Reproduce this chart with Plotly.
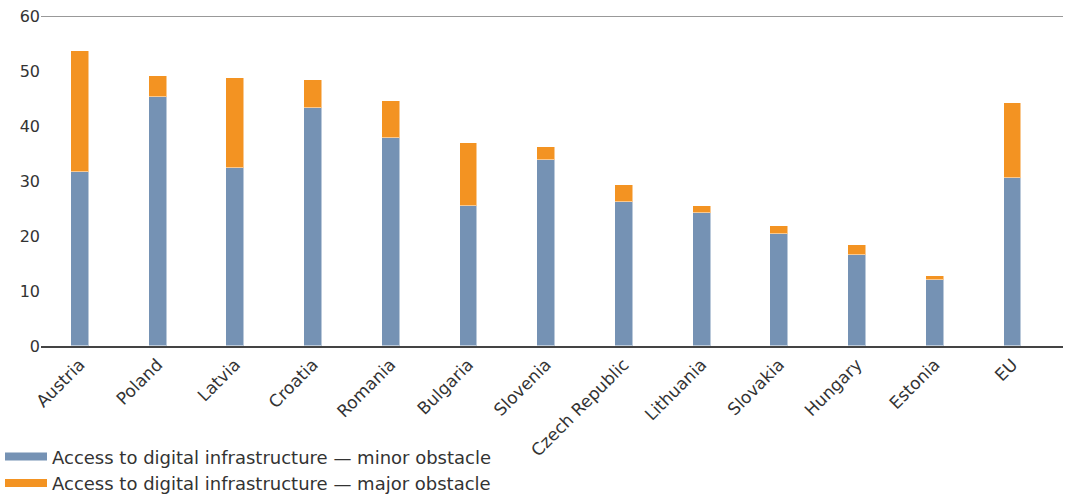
import plotly.graph_objects as go

countries = ["Austria", "Poland", "Latvia", "Croatia", "Romania", "Bulgaria", "Slovenia",
             "Czech Republic", "Lithuania", "Slovakia", "Hungary", "Estonia", "EU"]
minor = [31.6, 45.3, 32.3, 43.3, 37.8, 25.4, 33.9, 26.1, 24.2, 20.3, 16.5, 12.0, 30.6]
total = [53.7, 49.1, 48.8, 48.3, 44.6, 37.0, 36.2, 29.3, 25.5, 21.8, 18.3, 12.8, 44.1]
major = [round(t - m, 1) for t, m in zip(total, minor)]

name_minor = "Access to digital infrastructure — minor obstacle"
name_major = "Access to digital infrastructure — major obstacle"
c_minor = "#7592B4"
c_major = "#F39322"

fig = go.Figure()
fig.add_trace(go.Bar(x=countries, y=minor, marker=dict(color=c_minor, line=dict(color="rgba(255,255,255,0.5)", width=1)),
                     width=0.23, showlegend=False, name=name_minor))
fig.add_trace(go.Bar(x=countries, y=major, marker=dict(color=c_major, line=dict(color="rgba(255,255,255,0.5)", width=1)),
                     width=0.23, showlegend=False, name=name_major))
# legend entries with wide rectangular keys
fig.add_trace(go.Scatter(x=[None], y=[None], mode="lines", line=dict(color=c_minor, width=8), name=name_minor))
fig.add_trace(go.Scatter(x=[None], y=[None], mode="lines", line=dict(color=c_major, width=8), name=name_major))

fig.add_shape(type="line", xref="paper", x0=0, x1=1, yref="y", y0=60, y1=60,
              line=dict(color="#777777", width=1.5), layer="below")

fig.update_layout(
    width=1065, height=497,
    barmode="stack",
    margin=dict(l=41, r=2, t=16, b=151, autoexpand=False),
    paper_bgcolor="white", plot_bgcolor="white",
    font=dict(family="DejaVu Sans, sans-serif", size=16, color="#333333"),
    xaxis=dict(range=[-0.5, 12.65], showline=True, linecolor="#444444", linewidth=2,
               tickangle=-45, ticks="", showgrid=False, tickfont=dict(size=17, color="#333333")),
    yaxis=dict(range=[0, 60], dtick=10, showgrid=False, zeroline=False, ticks="",
               tickfont=dict(size=16, color="#333333")),
    legend=dict(x=0, xanchor="left", xref="container", y=-0.28, yanchor="top", yref="paper",
                orientation="v", traceorder="normal", font=dict(size=18, color="#333333"),
                itemwidth=42, tracegroupgap=0, bgcolor="rgba(0,0,0,0)"),
    bargap=0,
)

fig.write_html("out.html")
